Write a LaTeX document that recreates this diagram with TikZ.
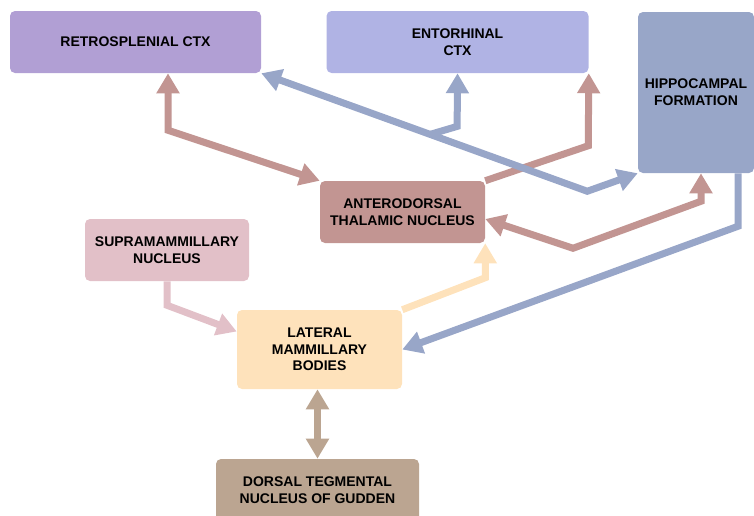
\documentclass[tikz,border=0pt]{standalone}
\usepackage{fontspec}
\setmainfont{Liberation Sans}
\usepackage{tikz}
\usetikzlibrary{arrows.meta,positioning,calc}
\definecolor{rsccol}{HTML}{B19FD4}
\definecolor{entcol}{HTML}{B0B3E4}
\definecolor{hfcol}{HTML}{98A6C8}
\definecolor{adtcol}{HTML}{C29592}
\definecolor{sumcol}{HTML}{E2C0C8}
\definecolor{lmbcol}{HTML}{FEE2BB}
\definecolor{dtgcol}{HTML}{BBA591}

\begin{document}
\begin{tikzpicture}[x=0.75pt, y=-0.75pt, >={Triangle[width=16.5pt,length=15pt]},
  every node/.style={rectangle, rounded corners=3.75pt, align=center, minimum height=46.5pt, font=\fontsize{10.5}{12.5}\selectfont\bfseries},
  link/.style={line width=5.25pt}]
  \useasboundingbox (0,0) rectangle (754,515);

  \node[fill=rsccol, minimum width=188.25pt] (rsc) at (135.5,42) {RETROSPLENIAL CTX};
  \node[fill=entcol, minimum width=196.5pt, right=48.75pt of rsc] (ent) {ENTORHINAL\\CTX};
  \node[fill=hfcol, minimum width=87pt, minimum height=120.75pt] (hf) at (696,92.5) {HIPPOCAMPAL\\FORMATION};
  \node[fill=adtcol, minimum width=123.75pt] (adt) at (402.5,212) {ANTERODORSAL\\THALAMIC NUCLEUS};
  \node[fill=sumcol, minimum width=123pt] (sum) at (167,250) {SUPRAMAMMILLARY\\NUCLEUS};
  \node[fill=lmbcol, minimum width=123.75pt, minimum height=59.25pt] (lmb) at (319.5,349.5) {LATERAL\\MAMMILLARY\\BODIES};
  \node[fill=dtgcol, minimum width=152.25pt] (dtg) at (317.5,490) {DORSAL TEGMENTAL\\NUCLEUS OF GUDDEN};

  \draw[link, draw=adtcol, <->] ($(rsc.south)+(32.5,0)$) -- ++(0,57) -- (adt.north west);
  \draw[link, draw=adtcol, ->] (adt.north east) -- ++(103,-35) -- (ent.south east);
  \draw[link, draw=hfcol, <->] (rsc.south east) -- coordinate[pos=0.518] (fork) ++(326,118) -- (hf.south west);
  \draw[link, draw=hfcol, ->] (fork) -- ++(27,-8) -- (ent.south);
  \draw[link, draw=adtcol, <->] ($(hf.south)+(5,0)$) -- ++(0,28) -- ++(-128,47) -- ($(adt.east)+(0,7)$);
  \draw[link, draw=hfcol, ->] ($(hf.south)+(42,0)$) -- ++(0,53) -- (lmb.east);
  \draw[link, draw=lmbcol, ->] (lmb.north east) -- ++(83,-32) -- (adt.south east);
  \draw[link, draw=sumcol, ->] (sum.south) -- ++(0,24) -- ($(lmb.west)+(0,-18)$);
  \draw[link, draw=dtgcol, <->] (dtg.north) -- (dtg.north |- lmb.south);
\end{tikzpicture}
\end{document}
